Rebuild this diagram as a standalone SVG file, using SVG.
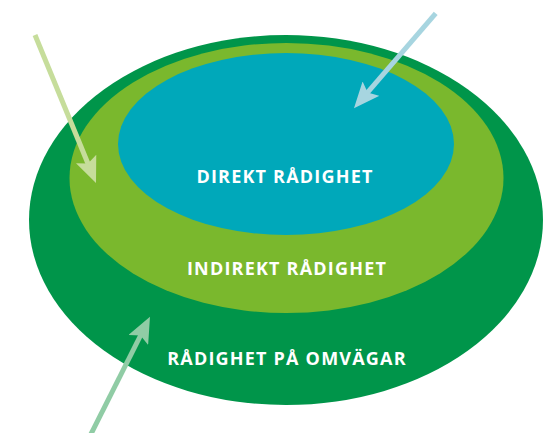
<svg xmlns="http://www.w3.org/2000/svg" width="556" height="433" viewBox="0 0 556 433">
  <style>
    .label { font-family: "Open Sans", "Liberation Sans", sans-serif; font-weight: 700; font-size: 18px; fill: #ffffff; text-anchor: middle; letter-spacing: 1.2px; }
    .shaft { fill: none; stroke-width: 5; stroke-linecap: butt; }
  </style>
  <defs>
    <marker id="head-lime" markerUnits="userSpaceOnUse" markerWidth="28" markerHeight="22" viewBox="0 0 28 22" refX="10" refY="11" orient="auto">
      <path d="M0,0 L26,11 L0,22 L5,11 Z" fill="#c6dd9b"/>
    </marker>
    <marker id="head-sky" markerUnits="userSpaceOnUse" markerWidth="28" markerHeight="22" viewBox="0 0 28 22" refX="10" refY="11" orient="auto">
      <path d="M0,0 L26,11 L0,22 L5,11 Z" fill="#a7d5e0"/>
    </marker>
    <marker id="head-mint" markerUnits="userSpaceOnUse" markerWidth="28" markerHeight="22" viewBox="0 0 28 22" refX="10" refY="11" orient="auto">
      <path d="M0,0 L26,11 L0,22 L5,11 Z" fill="#90cca5"/>
    </marker>
  </defs>

  <!-- nested zones, outermost first -->
  <g id="omvagar">
    <ellipse cx="286" cy="220" rx="257" ry="185" fill="#00954a"/>
    <text class="label" x="287" y="365">RÅDIGHET PÅ OMVÄGAR</text>
  </g>
  <g id="indirekt">
    <ellipse cx="286.5" cy="178" rx="217" ry="135" fill="#7ab82d"/>
    <text class="label" x="287" y="275">INDIREKT RÅDIGHET</text>
  </g>
  <g id="direkt">
    <ellipse cx="286" cy="144" rx="168" ry="91" fill="#00a8ba"/>
    <text class="label" x="285" y="183">DIREKT RÅDIGHET</text>
  </g>

  <!-- incoming arrows -->
  <g id="connectors">
    <line class="shaft" x1="35" y1="35" x2="89.9" y2="168.2" stroke="#c6dd9b" marker-end="url(#head-lime)"/>
    <line class="shaft" x1="435.7" y1="13.3" x2="364.4" y2="96.2" stroke="#a7d5e0" marker-end="url(#head-sky)"/>
    <line class="shaft" x1="89" y1="438" x2="142.8" y2="331" stroke="#90cca5" marker-end="url(#head-mint)"/>
  </g>
</svg>
